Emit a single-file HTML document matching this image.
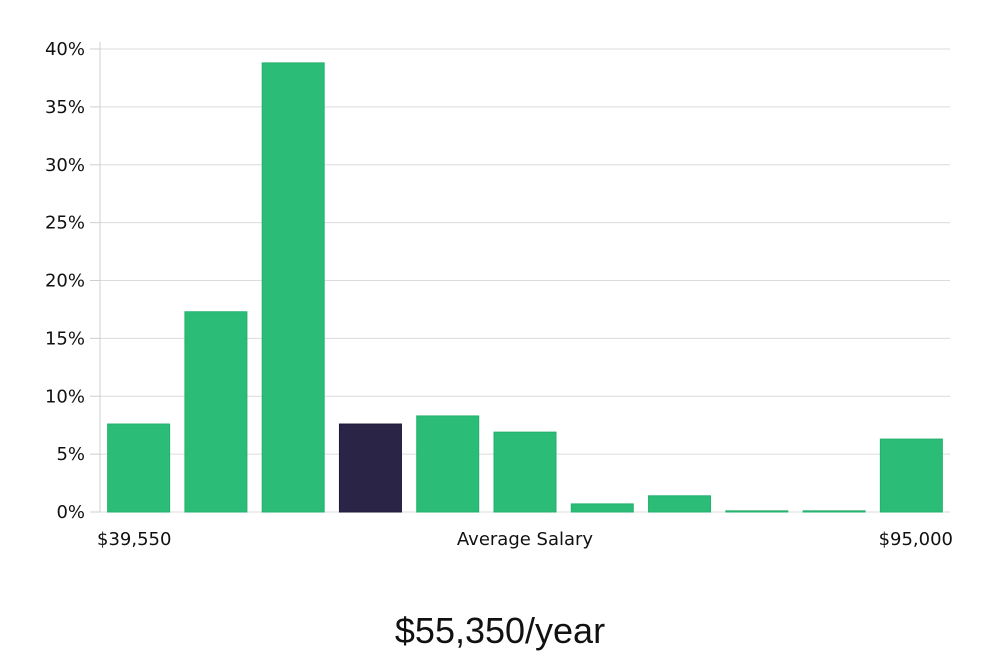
<!DOCTYPE html>
<html><head><meta charset="utf-8"><style>
body{margin:0;background:#fff;width:1000px;height:660px;overflow:hidden}
svg{font-family:"DejaVu Sans","Liberation Sans",sans-serif}
</style></head><body>
<svg id="chart" width="1000" height="660"></svg>
<script>
const categories=["b1","b2","b3","b4","b5","b6","b7","b8","b9","b10","b11"];
const values=[7.6,17.3,38.8,7.6,8.3,6.9,0.7,1.4,0.1,0.1,6.3];
const highlight=[false,false,false,true,false,false,false,false,false,false,false];
const yTicks=[0,5,10,15,20,25,30,35,40];
const ns="http://www.w3.org/2000/svg";
const svg=document.getElementById('chart');
const x0=100,x1=950,yBase=512,yTop=49,yMax=40;
const y=v=>yBase-(v/yMax)*(yBase-yTop);
const slot=(x1-x0)/categories.length;
const xb=i=>x0+i*slot+(slot-62)/2;
function mk(t,a){const e=document.createElementNS(ns,t);for(const k in a)e.setAttribute(k,a[k]);svg.appendChild(e);return e;}
yTicks.forEach(t=>{
  const g=mk('line',{x1:x0,x2:x1,y1:y(t),y2:y(t),stroke:'#dcdcdc','stroke-width':1});
  
  
  const tk=mk('line',{x1:90,x2:x0,y1:y(t),y2:y(t),stroke:'#cfcfcf','stroke-width':1});
  
  
  const l=mk('text',{x:85,y:y(t)+6,'text-anchor':'end','font-size':18,fill:'#111'});
  l.textContent=t+'%';
  
  
});
const ax=mk('line',{x1:x0,x2:x0,y1:42,y2:yBase,stroke:'#cfcfcf','stroke-width':1});


values.forEach((v,i)=>{
  const r=mk('rect',{x:xb(i),y:y(v),width:62,height:Math.max(1,yBase-y(v)),fill:highlight[i]?'#2a2547':'#2bbd77',stroke:highlight[i]?'#1e1a3a':'#25b06d','stroke-width':1});
  
  
});
</script>
<div style="position:absolute;left:0;top:0;width:1000px;height:660px;font-family:'DejaVu Sans','Liberation Sans',sans-serif;pointer-events:none">
<div style="position:absolute;left:97px;top:529px;font-size:18px;color:#111">$39,550</div>
<div style="position:absolute;left:0;width:1050px;text-align:center;top:529px;font-size:18px;color:#111">Average Salary</div>
<div style="position:absolute;right:47px;top:529px;font-size:18px;color:#111">$95,000</div>
<div style="position:absolute;left:0;width:1000px;text-align:center;top:610px;font-size:36px;color:#111;font-family:'Liberation Sans',sans-serif;font-weight:300">$55,350/year</div>
</div>
</body></html>
